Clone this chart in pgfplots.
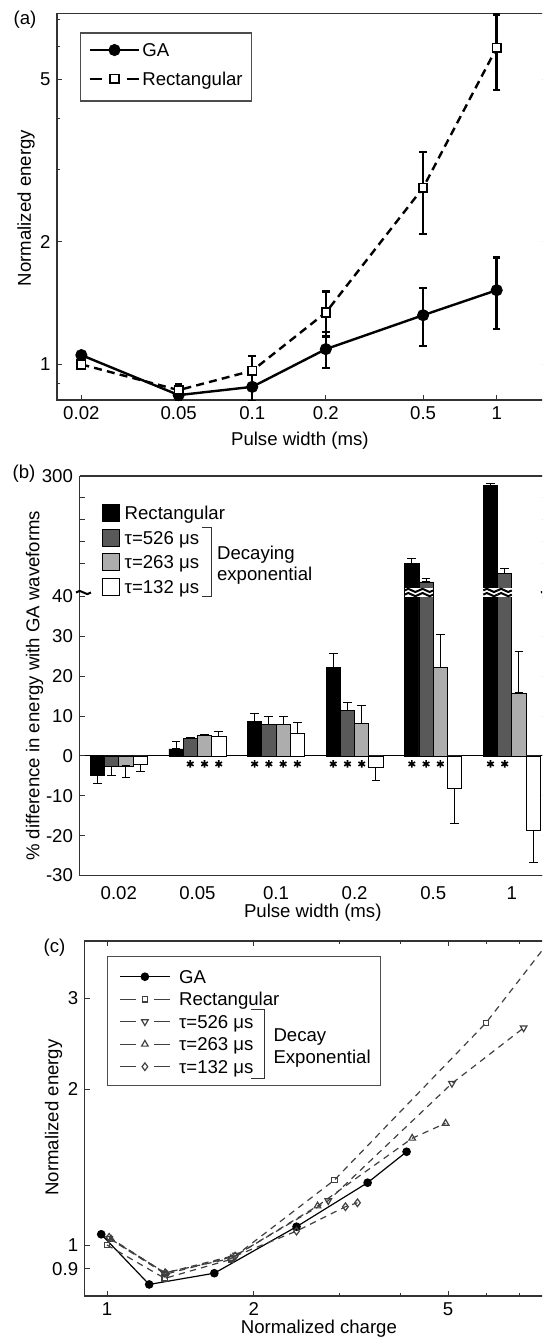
\documentclass[border=0pt]{standalone}
\usepackage{pgfplots}
\pgfplotsset{compat=1.18}
\usepackage{pgfplotstable}
\usepackage{fontspec}
\setmainfont{Liberation Sans}

\definecolor{axgray}{gray}{0.2}
\definecolor{darkbar}{gray}{0.35}
\definecolor{lightbar}{gray}{0.68}
\definecolor{dashgray}{gray}{0.25}

% ---------- panel (a) ----------
\pgfplotstableread{
x y ep em
0.02 1.054 0.01 0.01
0.05 0.841 0.03 0.03
0.1 0.881 0.07 0.07
0.2 1.09 0.11 0.11
0.5 1.32 0.22 0.21
1 1.52 0.31 0.30
}\GAa
\pgfplotstableread{
x y ep em
0.02 1.0 0.01 0.01
0.05 0.865 0.03 0.03
0.1 0.965 0.085 0.085
0.2 1.34 0.17 0.17
0.5 2.71 0.60 0.62
1 5.97 1.23 1.27
}\Recta

% ---------- panel (b) ----------
\pgfplotstableread{
x y ep em
1 -5.0 0 1.9
2 1.75 1.8 0
3 8.65 2.05 0
4 22.1 3.7 0
5 100 11 0
6 279 4 0
}\Rectb
\pgfplotstableread{
x y ep em
1 -2.6 0 2.4
2 4.3 0.3 0
3 8.0 2.0 0
4 11.5 1.8 0
5 57 7 0
6 77 10 0
}\Sixb
\pgfplotstableread{
x y ep em
1 -2.5 0 2.9
2 5.1 0.2 0
3 8.0 2.0 0
4 8.15 4.55 0
5 22.1 8.3 0
6 15.8 10.3 0
}\Twob
\pgfplotstableread{
x y ep em
1 -2.1 0 1.9
2 4.95 1.15 0
3 5.7 2.6 0
4 -2.9 0 3.3
5 -8.1 0 8.9
6 -18.6 0 8.2
}\Oneb
% upper (broken) part: only the bars that exceed 40
\pgfplotstableread{
x y ep em
5 100 11 0
6 279 4 0
}\Rectbu
\pgfplotstableread{
x y ep em
5 57 7 0
6 77 10 0
}\Sixbu
\pgfplotstableread{
x y
5 0
6 0
}\Nullbu

% ---------- panel (c) ----------
\pgfplotstableread{
x y
0.973 1.049
1.22 0.839
1.659 0.882
2.445 1.085
3.42 1.32
4.11 1.515
}\GAc
\pgfplotstableread{
x y
1.0 1.0
1.313 0.862
1.794 0.938
2.925 1.336
5.98 2.69
11.5 5.97
}\Rectc
\pgfplotstableread{
x y
1.01 1.03
1.309 0.882
1.838 0.956
2.84 1.218
5.09 2.054
7.14 2.63
}\Sixc
\pgfplotstableread{
x y
1.02 1.025
1.315 0.884
1.794 0.942
2.70 1.19
4.22 1.609
4.94 1.72
}\Twoc
\pgfplotstableread{
x y
1.01 1.035
1.324 0.879
1.83 0.952
2.445 1.064
3.08 1.186
3.26 1.207
}\Onec

\pgfplotsset{
  myaxis/.style={
    scale only axis,
    axis line style={axgray, line width=0.7pt},
    tick style={axgray, line width=0.5pt},
    major tick length=2.5pt, minor tick length=1.5pt,
    tick align=inside,
    legend cell align=left,
  },
  berr/.style={
    error bars/y dir=both, error bars/y explicit,
    error bars/error bar style={black, line width=0.5pt, solid},
    error bars/error mark options={rotate=90, mark size=2.2pt, line width=0.5pt, black, solid},
  },
  aerr/.style={
    error bars/y dir=both, error bars/y explicit,
    error bars/error bar style={black, line width=1.2pt, solid},
    error bars/error mark options={rotate=90, mark size=1.9pt, line width=1.2pt, black, solid},
  },
  patchleg/.style={legend image code/.code={\draw[##1, line width=0.5pt] (0pt,-4.33pt) rectangle (8.65pt,4.33pt);}},
  solidlegA/.style={legend image code/.code={\draw[##1] (0pt,0pt) -- (24.3pt,0pt); \draw[##1] plot[only marks] coordinates {(12.15pt,0pt)};}},
  dashlegA/.style={legend image code/.code={\draw[##1, dash pattern=on 6pt off 12.3pt] (0pt,0pt) -- (24.3pt,0pt); \draw[##1, solid] plot[only marks] coordinates {(12.15pt,0pt)};}},
  solidlegC/.style={legend image code/.code={\draw[##1] (0pt,0pt) -- (25pt,0pt); \draw[##1] plot[only marks] coordinates {(12.5pt,0pt)};}},
  dashlegC/.style={legend image code/.code={\draw[##1, dash pattern=on 8pt off 9pt] (0pt,0pt) -- (25pt,0pt); \draw[##1, solid] plot[only marks] coordinates {(12.5pt,0pt)};}},
  bgeom/.style={myaxis,
    at={(39.75pt,-437.75pt)}, anchor=south west,
    width=233.85pt, height=139.5pt,
    xmin=0.5, xmax=6.45, ymin=-30, ymax=40},
}

\newcommand\wave[4]{\draw[line width=#4] (#1,#2) sin ++(#3/4,-1.6) cos ++(#3/4,1.6) sin ++(#3/4,1.6) cos ++(#3/4,-1.6);}

\begin{document}
\fontsize{9.3pt}{11pt}\selectfont
\begin{tikzpicture}
\useasboundingbox (0pt,0pt) rectangle (271pt,-670.5pt);
\clip (0pt,0pt) rectangle (271pt,-670.5pt);

% ================= (a) =================
\begin{axis}[myaxis,
  at={(28.5pt,-200pt)}, anchor=south west,
  width=244.8pt, height=193.35pt,
  xmode=log, ymode=log,
  xmin=0.0159, xmax=1.6, ymin=0.818, ymax=7.25,
  xtick={0.02,0.05,0.1,0.2,0.5,1}, xticklabels={0.02,0.05,0.1,0.2,0.5,1},
  ytick={1,2,5}, yticklabels={1,2,5},
  minor ytick={0.9,3,4,6,7},
  xtick pos=left,
  xticklabel style={inner sep=1pt, yshift=-2.1pt},
  xlabel={Pulse width (ms)}, ylabel={Normalized energy},
  xlabel style={at={(axis description cs:0.496,-0.106)}, anchor=center, inner sep=0pt},
  ylabel style={at={(axis description cs:-0.0633,0.4965)}, anchor=center, inner sep=0pt},
  legend style={at={(axis description cs:0.0654,0.9224)}, anchor=north west,
    draw=none, fill=none, inner sep=0pt, outer sep=0pt,
    row sep=7.65pt, column sep=1.2pt,
    nodes={inner sep=0pt, text height=6.7pt, text depth=0pt}},
]
\addplot[black, line width=1.2pt, mark=*, mark size=2.4pt, aerr, solidlegA]
  table[x=x, y=y, y error plus=ep, y error minus=em] {\GAa};
\addlegendentry{GA}
\addplot[black, line width=1.2pt, dash pattern=on 4pt off 2.6pt,
  mark=square*, mark size=2.1pt, mark options={solid, fill=white, line width=0.9pt},
  aerr, dashlegA]
  table[x=x, y=y, y error plus=ep, y error minus=em] {\Recta};
\addlegendentry{Rectangular}
\end{axis}

% ================= (b) lower =================
\begin{axis}[bgeom,
  ybar=0pt, bar width=7.125pt,
  axis x line*=bottom, axis y line*=box,
  xtick={1,2,3,4,5,6}, xticklabels={0.02,0.05,0.1,0.2,0.5,1},
  xtick style={draw=none},
  xticklabel style={inner sep=1pt, yshift=-1.8pt},
  ytick={-30,-20,-10,0,10,20,30,40}, yticklabels={-30,-20,-10,0,10,20,30,40},
  extra y ticks={0}, extra y tick labels={},
  extra y tick style={grid=major, major grid style={black, line width=0.5pt}},
  xlabel={Pulse width (ms)}, ylabel={\% difference in energy with GA waveforms},
  xlabel style={at={(axis description cs:0.4988,-0.1345)}, anchor=center, inner sep=0pt},
  ylabel style={at={(axis description cs:-0.096,0.680)}, anchor=center, inner sep=0pt},
  legend style={at={(axis description cs:0.0481,1.3315)}, anchor=north west,
    draw=none, fill=none, inner sep=0pt, outer sep=0pt,
    row sep=3.1pt, column sep=2.2pt,
    nodes={inner sep=0pt, text height=6.7pt, text depth=0pt}},
]
\addplot[fill=black, draw=black, line width=0.4pt, berr, patchleg]
  table[x=x, y=y, y error plus=ep, y error minus=em] {\Rectb};
\addlegendentry{Rectangular}
\addplot[fill=darkbar, draw=black, line width=0.4pt, berr, patchleg]
  table[x=x, y=y, y error plus=ep, y error minus=em] {\Sixb};
\addlegendentry{τ=526 μs}
\addplot[fill=lightbar, draw=black, line width=0.4pt, berr, patchleg]
  table[x=x, y=y, y error plus=ep, y error minus=em] {\Twob};
\addlegendentry{τ=263 μs}
\addplot[fill=white, draw=black, line width=0.4pt, berr, patchleg]
  table[x=x, y=y, y error plus=ep, y error minus=em] {\Oneb};
\addlegendentry{τ=132 μs}
\end{axis}

% significance asterisks (same geometry as the lower axis)
\begin{axis}[bgeom, hide axis]
\addplot[only marks, mark=asterisk, mark size=1.9pt, line width=0.8pt, black] coordinates {
  (1.9094,-2.0) (2.0906,-2.0) (2.2719,-2.0)
  (2.7281,-2.0) (2.9094,-2.0) (3.0906,-2.0) (3.2719,-2.0)
  (3.7281,-2.0) (3.9094,-2.0) (4.0906,-2.0)
  (4.7281,-2.0) (4.9094,-2.0) (5.0906,-2.0)
  (5.7281,-2.0) (5.9094,-2.0)};
\end{axis}

% ================= (b) upper =================
\begin{axis}[myaxis,
  at={(39.75pt,-298.25pt)}, anchor=south west,
  width=233.85pt, height=60.25pt,
  xmin=0.5, xmax=6.45, ymin=23.6, ymax=300,
  ybar=0pt, bar width=7.125pt,
  axis x line*=top, axis y line*=box,
  xtick=\empty,
  ytick={100,150,200,250,300}, yticklabels={,,,,300},
]
\addplot[fill=black, draw=black, line width=0.4pt, berr]
  table[x=x, y=y, y error plus=ep, y error minus=em] {\Rectbu};
\addplot[fill=darkbar, draw=black, line width=0.4pt, berr]
  table[x=x, y=y, y error plus=ep, y error minus=em] {\Sixbu};
\addplot[draw=none, fill=none] table[x=x, y=y] {\Nullbu};
\addplot[draw=none, fill=none] table[x=x, y=y] {\Nullbu};
\end{axis}

% ================= (c) =================
\begin{axis}[myaxis,
  at={(42.35pt,-648pt)}, anchor=south west,
  width=237.95pt, height=177.5pt,
  xmode=log, ymode=log,
  xmin=0.9, xmax=8.5, ymin=0.797, ymax=3.873,
  xtick={1,2,5}, xticklabels={1,2,5},
  minor xtick={3,4,6,7,8},
  xticklabel style={inner sep=1pt, yshift=-2.1pt},
  ytick={0.9,1,2,3}, yticklabels={0.9,1,2,3},
  xlabel={Normalized charge}, ylabel={Normalized energy},
  xlabel style={at={(axis description cs:0.4921,-0.091)}, anchor=center, inner sep=0pt},
  ylabel style={at={(axis description cs:-0.0653,0.503)}, anchor=center, inner sep=0pt},
  legend style={at={(axis description cs:0.0727,0.9183)}, anchor=north west,
    draw=none, fill=none, inner sep=0pt, outer sep=0pt,
    row sep=4.55pt, column sep=4.3pt,
    nodes={inner sep=0pt, text height=6.7pt, text depth=0pt}},
]
\addplot[black, line width=0.6pt, mark=*, mark size=1.85pt, solidlegC]
  table[x=x, y=y] {\GAc};
\addlegendentry{GA}
\addplot[dashgray, line width=0.6pt, dash pattern=on 3.2pt off 2.6pt,
  mark=square, mark size=1.35pt, mark options={solid}, dashlegC]
  table[x=x, y=y] {\Rectc};
\addlegendentry{Rectangular}
\addplot[dashgray, line width=0.6pt, dash pattern=on 3.2pt off 2.6pt,
  mark=triangle, mark size=1.9pt, mark options={solid, rotate=180}, dashlegC]
  table[x=x, y=y] {\Sixc};
\addlegendentry{τ=526 μs}
\addplot[dashgray, line width=0.6pt, dash pattern=on 3.2pt off 2.6pt,
  mark=triangle, mark size=1.9pt, mark options={solid}, dashlegC]
  table[x=x, y=y] {\Twoc};
\addlegendentry{τ=263 μs}
\addplot[dashgray, line width=0.6pt, dash pattern=on 3.2pt off 2.6pt,
  mark=diamond, mark size=1.9pt, mark options={solid}, dashlegC]
  table[x=x, y=y] {\Onec};
\addlegendentry{τ=132 μs}
\end{axis}

% ================= annotations (pixel units) =================
\begin{scope}[x=0.5pt, y=-0.5pt]
\node at (25,20) {(a)};
\node at (24,474) {(b)};
\node at (54.5,948) {(c)};
% legend frames
\draw[gray!60!black, line width=0.6pt] (80.2,33) rectangle (251.3,101);
\draw[gray!60!black, line width=0.6pt] (107.2,956.7) rectangle (380.2,1085.7);
% bracket (b)
\draw[axgray, line width=0.6pt] (201.7,527.3) -- (211.7,527.3) -- (211.7,596.7) -- (201.7,596.7);
\node[anchor=base west, inner sep=0pt] at (216.7,559) {Decaying};
\node[anchor=base west, inner sep=0pt] at (216.7,580) {exponential};
% bracket (c)
\draw[axgray, line width=0.6pt] (250.6,1009.3) -- (264.4,1009.3) -- (264.4,1078.3) -- (250.6,1078.3);
\node[anchor=base west, inner sep=0pt] at (273.1,1041.5) {Decay};
\node[anchor=base west, inner sep=0pt] at (273.1,1063) {Exponential};
% axis breaks in (b)
\fill[white] (404.7,588.3) rectangle (433.2,597);
\fill[white] (483.3,588.3) rectangle (511.8,597);
\wave{404.7}{590.4}{14.25}{1pt}
\wave{404.7}{594.6}{14.25}{1pt}
\wave{418.95}{590.4}{14.25}{1pt}
\wave{418.95}{594.6}{14.25}{1pt}
\wave{483.3}{590.4}{14.25}{1pt}
\wave{483.3}{594.6}{14.25}{1pt}
\wave{497.55}{590.4}{14.25}{1pt}
\wave{497.55}{594.6}{14.25}{1pt}
\wave{76}{592.5}{15}{1pt}
\wave{541}{592.5}{15}{1pt}
\end{scope}
\end{tikzpicture}
\end{document}
